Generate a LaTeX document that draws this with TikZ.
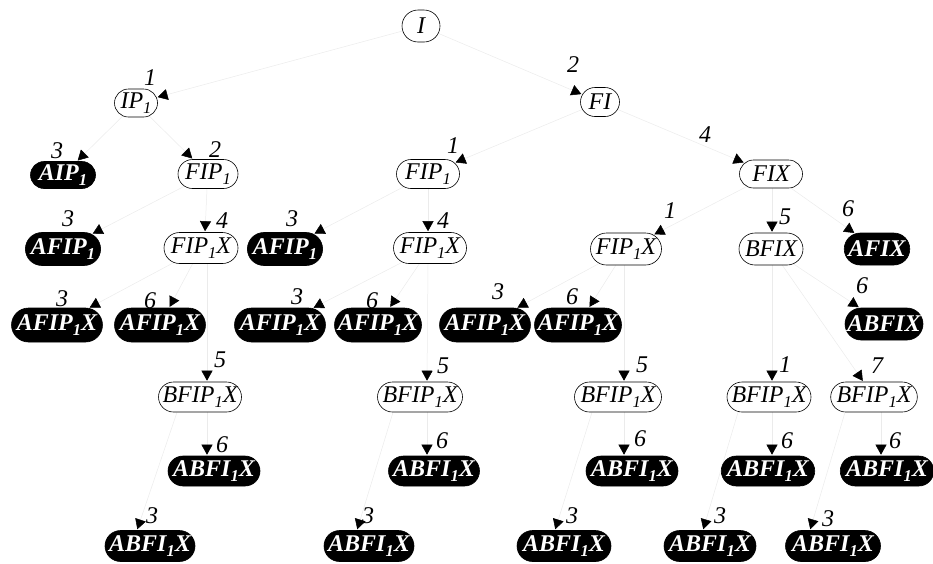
\documentclass[tikz,border=0pt]{standalone}
\usepackage{fontspec}
\setmainfont{Liberation Serif}
\usetikzlibrary{arrows.meta,shapes.misc,backgrounds}
\newcommand\sbx[1]{\raisebox{-0.4ex}{\fontsize{16.5}{16.5}\selectfont #1}}
\tikzset{
  wnode/.style={rounded rectangle, draw=black, line width=0.6pt, fill=white,
    minimum height=29pt, inner xsep=2pt, inner ysep=0pt,
    font=\fontsize{24}{26}\selectfont\itshape},
  bnode/.style={rounded rectangle, draw=black, line width=0.6pt, fill=black, text=white,
    minimum height=30pt, inner xsep=2pt, inner ysep=0pt,
    font=\fontsize{24}{26}\selectfont\bfseries\itshape},
  edge/.style={draw=black!8, line width=0.5pt, shorten >=1pt,
    -{Triangle[length=10pt,width=11pt,black]}},
  lbl/.style={font=\fontsize{24}{26}\selectfont\itshape, inner sep=0pt}
}
\begin{document}
\begin{tikzpicture}[x=1pt,y=-1pt]
\useasboundingbox (0,0) rectangle (933,563);
% nodes
\node[wnode, minimum width=42pt, minimum height=32pt] (I) at (421,26) {I};
\node[wnode, minimum width=47pt, minimum height=28pt] (IP) at (136,103) {IP\sbx{1}};
\node[wnode, minimum width=43pt] (FI) at (600,102) {FI};
\node[bnode, minimum width=69pt, minimum height=27pt] (AIP) at (63,175) {AIP\sbx{1}};
\node[wnode, minimum width=64pt] (FIPa) at (208,174) {FIP\sbx{1}};
\node[wnode, minimum width=67pt] (FIPb) at (428,174) {FIP\sbx{1}};
\node[wnode, minimum width=67pt, minimum height=28pt] (FIX) at (771,174) {FIX};
\node[bnode, minimum width=68pt, minimum height=33pt] (AFIPa) at (63,249) {AFIP\sbx{1}};
\node[wnode, minimum width=78pt, minimum height=31pt] (FIPXa) at (201,248) {FIP\sbx{1}X};
\node[bnode, minimum width=69pt, minimum height=33pt] (AFIPb) at (285,249) {AFIP\sbx{1}};
\node[wnode, minimum width=77pt, minimum height=31pt] (FIPXb) at (430,248) {FIP\sbx{1}X};
\node[wnode, minimum width=75pt, minimum height=32pt] (FIPXc) at (626,249) {FIP\sbx{1}X};
\node[wnode, minimum width=68pt, minimum height=32pt] (BFIX) at (771,249) {BFIX};
\node[bnode, minimum width=64pt, minimum height=32pt] (AFIX) at (877,249) {AFIX};
\node[bnode, minimum width=89pt, minimum height=34pt] (AFIPX1) at (57,325) {AFIP\sbx{1}X};
\node[bnode, minimum width=89pt, minimum height=34pt] (AFIPX2) at (160,325) {AFIP\sbx{1}X};
\node[bnode, minimum width=90pt, minimum height=34pt] (AFIPX3) at (280,325) {AFIP\sbx{1}X};
\node[bnode, minimum width=91pt, minimum height=34pt] (AFIPX4) at (378,325) {AFIP\sbx{1}X};
\node[bnode, minimum width=86pt, minimum height=34pt] (AFIPX5) at (485,325) {AFIP\sbx{1}X};
\node[bnode, minimum width=91pt, minimum height=34pt] (AFIPX6) at (578,325) {AFIP\sbx{1}X};
\node[bnode, minimum width=82pt, minimum height=32pt] (ABFIX) at (884,324) {ABFIX};
\node[wnode, minimum width=87pt, minimum height=30pt] (BFIPX1) at (200,397) {BFIP\sbx{1}X};
\node[wnode, minimum width=89pt, minimum height=30pt] (BFIPX2) at (420,397) {BFIP\sbx{1}X};
\node[wnode, minimum width=91pt, minimum height=30pt] (BFIPX3) at (618,397) {BFIP\sbx{1}X};
\node[wnode, minimum width=88pt, minimum height=30pt] (BFIPX4) at (769,397) {BFIP\sbx{1}X};
\node[wnode, minimum width=84pt, minimum height=30pt] (BFIPX5) at (874,397) {BFIP\sbx{1}X};
\node[bnode, minimum width=96pt] (ABFIa) at (214,471) {ABFI\sbx{1}X};
\node[bnode, minimum width=95pt] (ABFIb) at (434,471) {ABFI\sbx{1}X};
\node[bnode, minimum width=96pt] (ABFIc) at (632,471) {ABFI\sbx{1}X};
\node[bnode, minimum width=90pt] (ABFId) at (768,471) {ABFI\sbx{1}X};
\node[bnode, minimum width=92pt] (ABFIe) at (887,471) {ABFI\sbx{1}X};
\node[bnode, minimum width=94pt, minimum height=31pt] (ABFIf) at (150,546) {ABFI\sbx{1}X};
\node[bnode, minimum width=94pt, minimum height=31pt] (ABFIg) at (369,546) {ABFI\sbx{1}X};
\node[bnode, minimum width=98pt, minimum height=31pt] (ABFIh) at (564,546) {ABFI\sbx{1}X};
\node[bnode, minimum width=96pt, minimum height=31pt] (ABFIi) at (710,546) {ABFI\sbx{1}X};
\node[bnode, minimum width=99pt, minimum height=31pt] (ABFIj) at (833,546) {ABFI\sbx{1}X};
% edges
\begin{scope}[on background layer]
\draw[edge] (I) -- (IP) node[lbl] at (150,78) {1};
\draw[edge] (I) -- (FI) node[lbl] at (573,65) {2};
\draw[edge] (IP) -- (AIP) node[lbl] at (57,151) {3};
\draw[edge] (IP) -- (FIPa) node[lbl] at (215,150) {2};
\draw[edge] (FI) -- (FIPb) node[lbl] at (453,146) {1};
\draw[edge] (FI) -- (FIX) node[lbl] at (705,135) {4};
\draw[edge] (FIPa) -- (AFIPa) node[lbl] at (68,219) {3};
\draw[edge] ([xshift=-1pt]FIPa.south) -- ([xshift=4pt]FIPXa.north) node[lbl] at (222,221) {4};
\draw[edge] (FIPb) -- (AFIPb) node[lbl] at (292,219) {3};
\draw[edge] (FIPb.south) -- ([xshift=-2pt]FIPXb.north) node[lbl] at (443,221) {4};
\draw[edge] (FIX) -- (FIPXc) node[lbl] at (670,211) {1};
\draw[edge] ([xshift=1pt]FIX.south) -- ([xshift=1pt]BFIX.north) node[lbl] at (785,217) {5};
\draw[edge] (FIX) -- (AFIX) node[lbl] at (848,209) {6};
\draw[edge] (FIPXa) -- (AFIPX1) node[lbl] at (62,299) {3};
\draw[edge] (FIPXa) -- (AFIPX2) node[lbl] at (150,301) {6};
\draw[edge] ([xshift=6pt]FIPXa.south) -- ([xshift=7pt]BFIPX1.north) node[lbl] at (220,360) {5};
\draw[edge] (FIPXb) -- (AFIPX3) node[lbl] at (297,297) {3};
\draw[edge] (FIPXb) -- (AFIPX4) node[lbl] at (372,301) {6};
\draw[edge] ([xshift=-2pt]FIPXb.south) -- ([xshift=7pt]BFIPX2.north) node[lbl] at (443,366) {5};
\draw[edge] (FIPXc) -- (AFIPX5) node[lbl] at (498,292) {3};
\draw[edge] (FIPXc) -- (AFIPX6) node[lbl] at (572,297) {6};
\draw[edge] ([xshift=-2pt]FIPXc.south) -- ([xshift=6pt]BFIPX3.north) node[lbl] at (642,365) {5};
\draw[edge] (BFIX) -- (ABFIX) node[lbl] at (862,286) {6};
\draw[edge] ([xshift=1pt]BFIX.south) -- ([xshift=3pt]BFIPX4.north) node[lbl] at (785,365) {1};
\draw[edge] (BFIX) -- (BFIPX5) node[lbl] at (877,366) {7};
\draw[edge] ([xshift=7pt]BFIPX1.south) -- ([xshift=-7pt]ABFIa.north) node[lbl] at (222,445) {6};
\draw[edge] ([xshift=-23pt]BFIPX1.south) -- ([xshift=-13pt]ABFIf.north) node[lbl] at (152,516) {3};
\draw[edge] ([xshift=7pt]BFIPX2.south) -- ([xshift=-7pt]ABFIb.north) node[lbl] at (442,441) {6};
\draw[edge] ([xshift=-27pt]BFIPX2.south) -- ([xshift=-12pt]ABFIg.north) node[lbl] at (368,516) {3};
\draw[edge] ([xshift=6pt]BFIPX3.south) -- ([xshift=-8pt]ABFIc.north) node[lbl] at (640,439) {6};
\draw[edge] ([xshift=-26pt]BFIPX3.south) -- ([xshift=-9pt]ABFIh.north) node[lbl] at (572,516) {3};
\draw[edge] ([xshift=3pt]BFIPX4.south) -- ([xshift=4pt]ABFId.north) node[lbl] at (787,441) {6};
\draw[edge] ([xshift=-31pt]BFIPX4.south) -- ([xshift=-7pt]ABFIi.north) node[lbl] at (720,516) {3};
\draw[edge] ([xshift=7pt]BFIPX5.south) -- ([xshift=-6pt]ABFIe.north) node[lbl] at (895,441) {6};
\draw[edge] ([xshift=-29pt]BFIPX5.south) -- ([xshift=-23pt]ABFIj.north) node[lbl] at (828,519) {3};
\end{scope}
\end{tikzpicture}
\end{document}
